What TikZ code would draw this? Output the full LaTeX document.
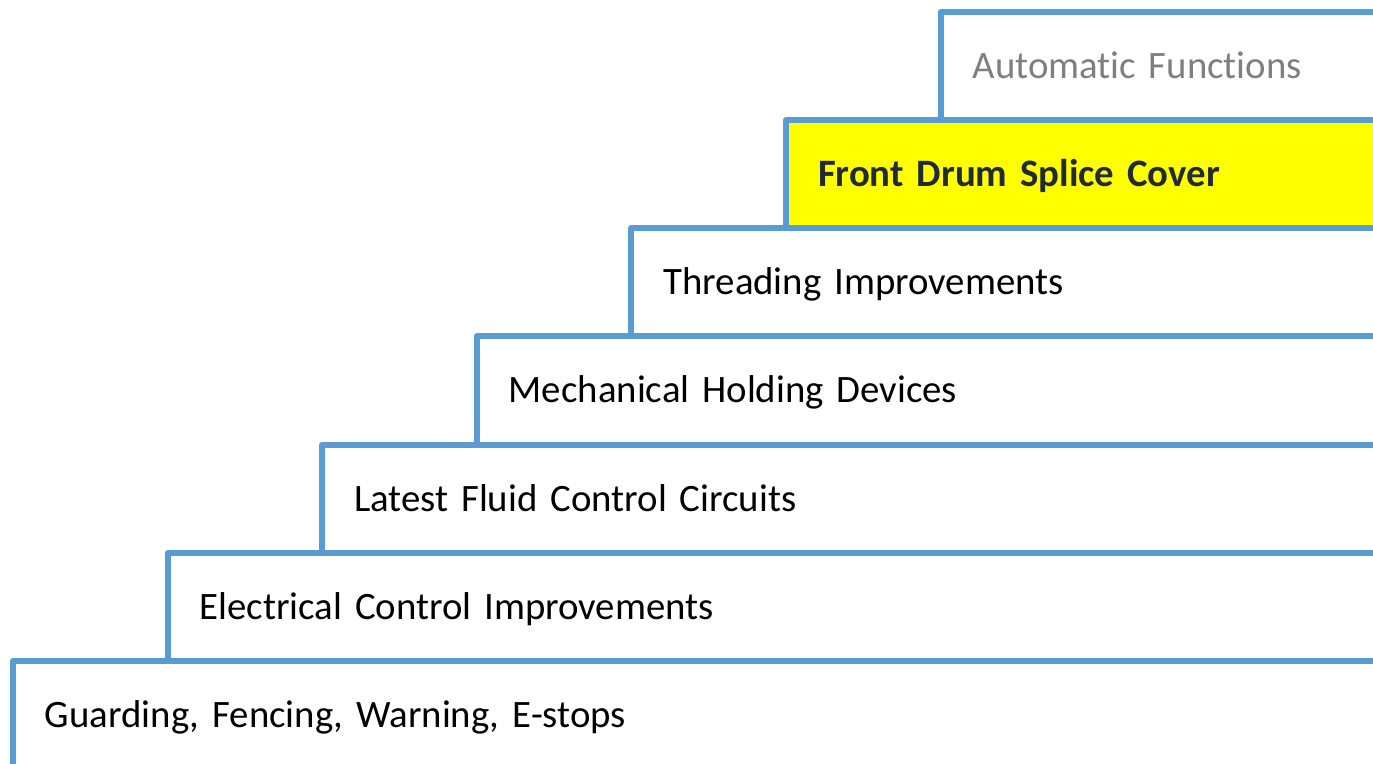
\documentclass[tikz,border=0pt]{standalone}
\usepackage{fontspec}
\setmainfont{Carlito}[Ligatures=CommonOff]
\definecolor{stepblue}{HTML}{5B9BD5}
\definecolor{stepgray}{HTML}{7F7F7F}
\definecolor{stepdark}{HTML}{222A35}
\definecolor{stepyellow}{RGB}{255,255,0}
\tikzset{
  stepbox/.style={draw=stepblue, line width=3pt, line join=round, fill=white,
    anchor=north west, outer sep=0pt, inner xsep=16pt, inner ysep=0pt,
    minimum height=54.1pt, text width=718pt, align=left,
    text height=12.4pt, text depth=0pt, font=\fontsize{19.4}{23}\selectfont}
}
\begin{document}
\begin{tikzpicture}[x=0.5pt,y=0.5pt]
\useasboundingbox (0,0) rectangle (1373,-764);
\clip (0,0) rectangle (1373,-764);
% steps, bottom to top
\node[stepbox] (guard) at (13,-661) {Guarding, Fencing, Warning, E-stops};
\node[stepbox] (elec) at (167.6,-552.8) {Electrical Control Improvements};
\node[stepbox] (fluid) at (322.2,-444.6) {Latest Fluid Control Circuits};
\node[stepbox] (mech) at (476.8,-336.4) {Mechanical Holding Devices};
\node[stepbox] (thread) at (631.4,-228.2) {Threading Improvements};
\node[stepbox, fill=stepyellow, text=stepdark] (drum) at (786,-120) {\bfseries Front Drum Splice Cover};
\node[stepbox, text=stepgray] (auto) at (940.6,-11.8) {Automatic Functions};
\end{tikzpicture}
\end{document}
